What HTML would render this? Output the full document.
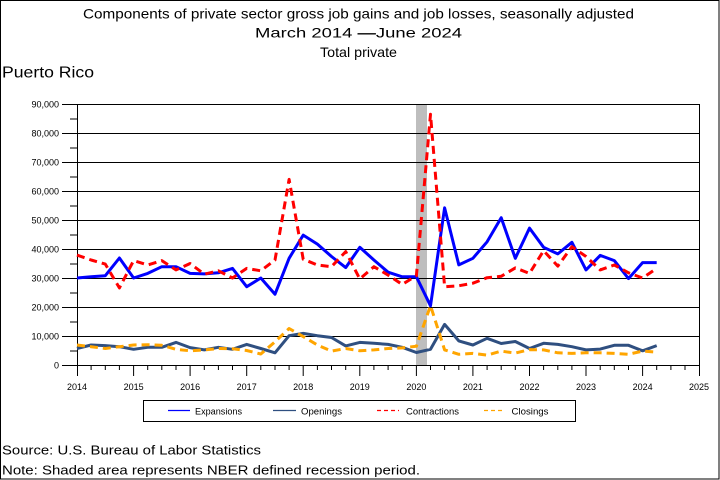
<!DOCTYPE html>
<html>
<head>
<meta charset="utf-8">
<style>
html,body{margin:0;padding:0;background:#fff;}
svg{display:block;}
text{font-family:"Liberation Sans",sans-serif;fill:#000;}
</style>
</head>
<body>
<svg width="720" height="480" viewBox="0 0 720 480" xmlns="http://www.w3.org/2000/svg">
<rect x="0" y="0" width="720" height="480" fill="#fff"/>
<!-- outer border -->
<rect x="0.5" y="0.5" width="718.5" height="478.5" fill="none" stroke="#000" stroke-width="1"/>

<!-- titles -->
<text x="83" y="18.5" font-size="14" textLength="551" lengthAdjust="spacingAndGlyphs">Components of private sector gross job gains and job losses, seasonally adjusted</text>
<text x="255" y="37.5" font-size="14" textLength="207" lengthAdjust="spacingAndGlyphs">March 2014  <tspan font-weight="bold">—</tspan>June 2024</text>
<text x="320" y="57" font-size="14" textLength="77" lengthAdjust="spacingAndGlyphs">Total private</text>
<text x="2" y="77.7" font-size="16" textLength="92" lengthAdjust="spacingAndGlyphs">Puerto Rico</text>

<!-- recession shade -->
<rect x="416" y="104" width="11" height="261" fill="#bebebe"/>

<!-- gridlines & y ticks -->
<g stroke="#000" stroke-width="1" shape-rendering="crispEdges">
<line x1="62" y1="104.5" x2="699" y2="104.5"/>
<line x1="62" y1="133.5" x2="699" y2="133.5"/>
<line x1="62" y1="162.5" x2="699" y2="162.5"/>
<line x1="62" y1="191.5" x2="699" y2="191.5"/>
<line x1="62" y1="220.5" x2="699" y2="220.5"/>
<line x1="62" y1="249.5" x2="699" y2="249.5"/>
<line x1="62" y1="278.5" x2="699" y2="278.5"/>
<line x1="62" y1="307.5" x2="699" y2="307.5"/>
<line x1="62" y1="336.5" x2="699" y2="336.5"/>
<line x1="62" y1="365.5" x2="699" y2="365.5"/>
<!-- minor y ticks -->
<line x1="70" y1="119" x2="77" y2="119"/>
<line x1="70" y1="148" x2="77" y2="148"/>
<line x1="70" y1="177" x2="77" y2="177"/>
<line x1="70" y1="206" x2="77" y2="206"/>
<line x1="70" y1="235" x2="77" y2="235"/>
<line x1="70" y1="264" x2="77" y2="264"/>
<line x1="70" y1="293" x2="77" y2="293"/>
<line x1="70" y1="322" x2="77" y2="322"/>
<line x1="70" y1="351" x2="77" y2="351"/>
<!-- axes -->
<line x1="77.5" y1="104" x2="77.5" y2="376"/>
<line x1="699.5" y1="104" x2="699.5" y2="376"/>
</g>

<!-- x ticks -->
<g stroke="#000" stroke-width="1">
<path d="M91.1 365V370M105.3 365V370M119.4 365V370M147.7 365V370M161.8 365V370M176 365V370M204.3 365V370M218.4 365V370M232.5 365V370M260.8 365V370M275 365V370M289.1 365V370M317.4 365V370M331.5 365V370M345.7 365V370M373.9 365V370M388.1 365V370M402.2 365V370M430.5 365V370M444.6 365V370M458.8 365V370M487.1 365V370M501.2 365V370M515.3 365V370M543.6 365V370M557.8 365V370M571.9 365V370M600.2 365V370M614.3 365V370M628.5 365V370M656.7 365V370M670.9 365V370M685 365V370"/>
<path d="M133.6 365V376M190.1 365V376M246.7 365V376M303.2 365V376M359.8 365V376M416.4 365V376M472.9 365V376M529.5 365V376M586 365V376M642.6 365V376"/>
</g>

<!-- y labels -->
<g font-size="9" text-anchor="end">
<text x="59" y="107.5">90,000</text>
<text x="59" y="136.5">80,000</text>
<text x="59" y="165.5">70,000</text>
<text x="59" y="194.5">60,000</text>
<text x="59" y="223.5">50,000</text>
<text x="59" y="252.5">40,000</text>
<text x="59" y="281.5">30,000</text>
<text x="59" y="310.5">20,000</text>
<text x="59" y="339.5">10,000</text>
<text x="59" y="368.5">0</text>
</g>

<!-- x labels -->
<g font-size="9" text-anchor="middle">
<text x="77" y="390">2014</text>
<text x="133.6" y="390">2015</text>
<text x="190.1" y="390">2016</text>
<text x="246.7" y="390">2017</text>
<text x="303.2" y="390">2018</text>
<text x="359.8" y="390">2019</text>
<text x="416.4" y="390">2020</text>
<text x="472.9" y="390">2021</text>
<text x="529.5" y="390">2022</text>
<text x="586" y="390">2023</text>
<text x="642.6" y="390">2024</text>
<text x="699" y="390">2025</text>
</g>

<!-- series -->
<g fill="none" stroke-width="3" stroke-linejoin="round">
<polyline stroke="#0000ff" points="77,278 91.1,276.8 105.3,275.7 119.4,258 133.6,278 147.7,273.4 161.8,266.7 176,266.7 190.1,273.4 204.3,273.9 218.4,272.8 232.5,268.4 246.7,286.7 260.8,278 275,294.2 289.1,258.3 303.2,235.1 317.4,244.1 331.5,256.5 345.7,267.6 359.8,247.3 373.9,260 388.1,272.2 402.2,276.8 416.4,276.8 430.5,305.8 444.6,207.8 458.8,264.9 472.9,258.3 487.1,241.8 501.2,217.7 515.3,258.3 529.5,228.1 543.6,247.3 557.8,253.9 571.9,242.3 586,269.9 600.2,255.4 614.3,260.6 628.5,278.6 642.6,262.6 656.7,262.6"/>
<polyline stroke="#2f4f80" points="77,348.5 91.1,345 105.3,345.6 119.4,346.7 133.6,349.3 147.7,347.3 161.8,347.3 176,342.4 190.1,347.6 204.3,349.9 218.4,347.3 232.5,349.3 246.7,344.4 260.8,348.5 275,352.8 289.1,335.7 303.2,333.4 317.4,335.7 331.5,337.5 345.7,345.9 359.8,342.4 373.9,343.3 388.1,344.4 402.2,347.3 416.4,352.5 430.5,349.3 444.6,324.4 458.8,340.9 472.9,345 487.1,338.3 501.2,343.5 515.3,341.5 529.5,348.5 543.6,343.3 557.8,344.4 571.9,346.7 586,349.9 600.2,349.1 614.3,345.3 628.5,345.3 642.6,350.8 656.7,345.6"/>
<polyline stroke="#ff0000" stroke-dasharray="8,5" points="77,255.1 91.1,260 105.3,264.1 119.4,287.9 133.6,260.6 147.7,265 161.8,260.6 176,269.9 190.1,263.5 204.3,274.2 218.4,270.8 232.5,278 246.7,268.4 260.8,270.8 275,260 289.1,179.4 303.2,259.2 317.4,265 331.5,266.7 345.7,251.6 359.8,278.9 373.9,266.7 388.1,275.1 402.2,284.4 416.4,275.7 430.5,114.2 444.6,286.7 458.8,285.8 472.9,283.2 487.1,277.7 501.2,276.3 515.3,267.9 529.5,273.4 543.6,250.7 557.8,266.1 571.9,246.7 586,256.5 600.2,269.9 614.3,265 628.5,272.8 642.6,278 656.7,268.4"/>
<polyline stroke="#ffa500" stroke-dasharray="8,5" points="77,345 91.1,346.7 105.3,348.5 119.4,346.7 133.6,345 147.7,344.7 161.8,345.3 176,349.3 190.1,350.8 204.3,349.9 218.4,348.5 232.5,348.8 246.7,350.5 260.8,354 275,341.8 289.1,328.5 303.2,336.6 317.4,345 331.5,351.1 345.7,348.5 359.8,350.8 373.9,349.9 388.1,348.5 402.2,347.9 416.4,346.2 430.5,305.6 444.6,349.9 458.8,354.3 472.9,353.4 487.1,355.1 501.2,351.1 515.3,353.1 529.5,349.6 543.6,349.9 557.8,352.8 571.9,353.4 586,352.8 600.2,352.8 614.3,353.4 628.5,354.3 642.6,351.1 656.7,352.2"/>
</g>

<!-- legend -->
<rect x="143.5" y="400.5" width="432" height="21" fill="none" stroke="#000" stroke-width="1"/>
<g stroke-width="1.2" fill="none">
<line x1="168" y1="410.5" x2="190" y2="410.5" stroke="#0000ff"/>
<line x1="273" y1="410.5" x2="296" y2="410.5" stroke="#2f4f80"/>
<line x1="377" y1="410.5" x2="399" y2="410.5" stroke="#ff0000" stroke-dasharray="4,3"/>
<line x1="484" y1="410.5" x2="505" y2="410.5" stroke="#ffa500" stroke-dasharray="4,3"/>
</g>
<g font-size="9">
<text x="195" y="414.5" textLength="47" lengthAdjust="spacingAndGlyphs">Expansions</text>
<text x="301" y="414.5" textLength="41" lengthAdjust="spacingAndGlyphs">Openings</text>
<text x="406" y="414.5" textLength="53" lengthAdjust="spacingAndGlyphs">Contractions</text>
<text x="511.5" y="414.5" textLength="37" lengthAdjust="spacingAndGlyphs">Closings</text>
</g>

<!-- footnotes -->
<text x="2" y="454.5" font-size="13" textLength="259" lengthAdjust="spacingAndGlyphs">Source: U.S. Bureau of Labor Statistics</text>
<text x="2" y="474.5" font-size="13" textLength="418" lengthAdjust="spacingAndGlyphs">Note: Shaded area represents NBER defined recession period.</text>
</svg>
</body>
</html>
